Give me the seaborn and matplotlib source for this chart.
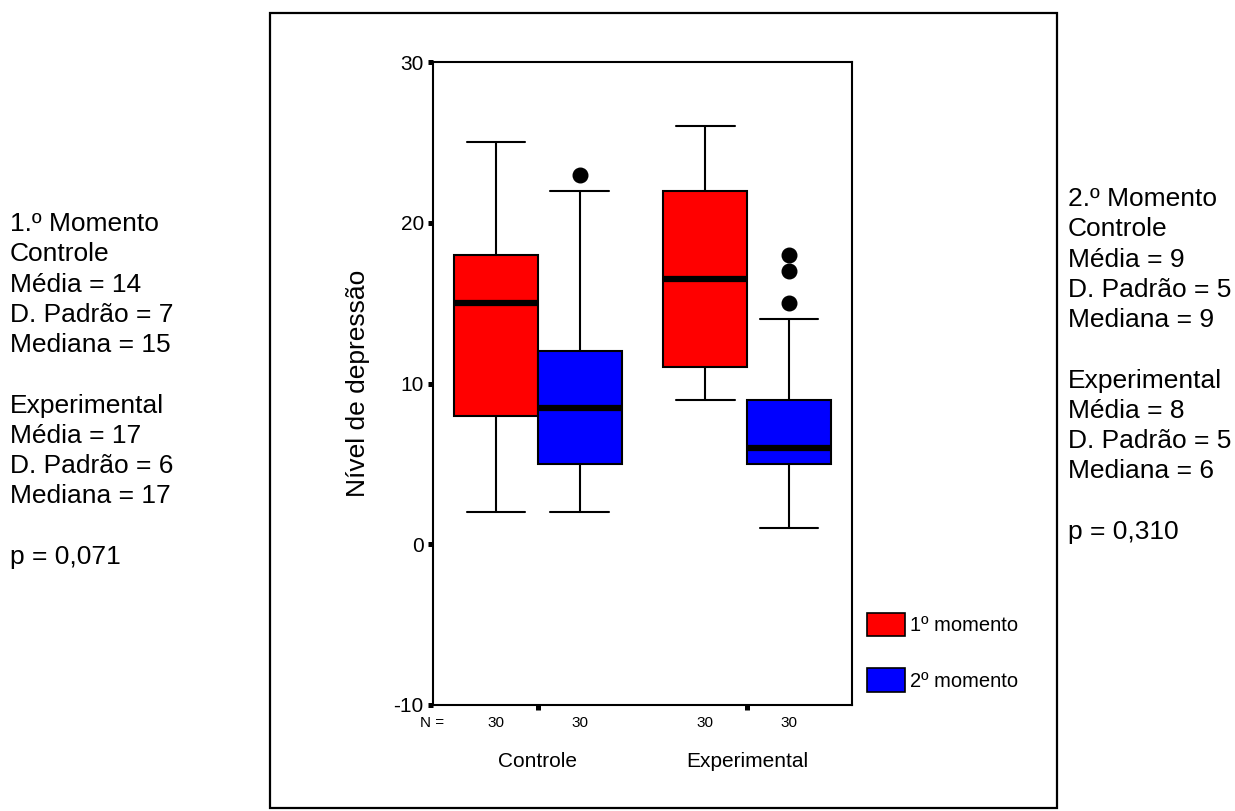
import numpy as np
import pandas as pd
import seaborn as sns
import matplotlib.pyplot as plt
from matplotlib.patches import Patch, Rectangle

# categories
groups = ["Controle", "Experimental"]
moments = ["1º momento", "2º momento"]
colors = ["#ff0000", "#0000ff"]

# box stats (Controle 1/2, Experimental 1/2)
medians = [15, 8.5, 16.5, 6]
q1 = [8, 5, 11, 5]
q3 = [18, 12, 22, 9]
whis_lo = [2, 2, 9, 1]
whis_hi = [25, 22, 26, 14]
outliers = [[], [23], [], [15, 17, 18]]
n_obs = [30, 30, 30, 30]

yticks = [-10, 0, 10, 20, 30]

left_lines = ["1.º Momento", "Controle", "Média = 14", "D. Padrão = 7", "Mediana = 15", "",
              "Experimental", "Média = 17", "D. Padrão = 6", "Mediana = 17", "", "p = 0,071"]
right_lines = ["2.º Momento", "Controle", "Média = 9", "D. Padrão = 5", "Mediana = 9", "",
               "Experimental", "Média = 8", "D. Padrão = 5", "Mediana = 6", "", "p = 0,310"]

sns.set_style("white")
plt.rcParams['font.family'] = ['Liberation Sans', 'DejaVu Sans']
plt.rcParams['axes.unicode_minus'] = False
for k in ["text.color", "axes.labelcolor", "xtick.color", "ytick.color"]:
    plt.rcParams[k] = "black"

# one row per box
df = pd.DataFrame({
    "grupo": np.repeat(groups, 2),
    "momento": moments * 2,
    "med": medians, "q1": q1, "q3": q3,
    "whislo": whis_lo, "whishi": whis_hi,
    "n": n_obs,
})
df["fliers"] = outliers
df["pos"] = [groups.index(g) + (moments.index(m) - 0.5) * 0.4 for g, m in zip(df.grupo, df.momento)]

stats = [dict(med=r.med, q1=r.q1, q3=r.q3, whislo=r.whislo, whishi=r.whishi, fliers=r.fliers)
         for r in df.itertuples()]

fig = plt.figure(figsize=(12.35, 8.11), dpi=100)
ax = fig.add_axes([433 / 1235, 1 - 705 / 811, (852 - 433) / 1235, (705 - 62) / 811])

bp = ax.bxp(stats, positions=df.pos, widths=0.4, patch_artist=True, capwidths=0.28,
            boxprops=dict(edgecolor="black", linewidth=1.5),
            medianprops=dict(color="black", linewidth=4.5, solid_capstyle="butt"),
            whiskerprops=dict(color="black", linewidth=1.5),
            capprops=dict(color="black", linewidth=1.5),
            flierprops=dict(marker="o", markerfacecolor="black", markeredgecolor="black", markersize=10.5))
for patch, m in zip(bp["boxes"], df.momento):
    patch.set_facecolor(colors[moments.index(m)])

ax.set_xlim(-0.5, 1.5)
ax.set_ylim(-10, 30)
ax.set_yticks(yticks)
ax.set_xticks(range(len(groups)))
ax.set_xticklabels(groups, fontsize=15)
ax.tick_params(axis="both", left=True, bottom=True, length=3.6, width=3.6,
               direction="out", color="black")
ax.tick_params(axis="y", labelsize=15, pad=3)
ax.tick_params(axis="x", pad=30)
for s in ax.spines.values():
    s.set_linewidth(1.5)
    s.set_color("black")
ax.set_ylabel("Nível de depressão", fontsize=19, labelpad=17)

# N row under the axis
tr = ax.get_xaxis_transform()
ax.text(-0.505, -0.028, "N =", transform=tr, ha="center", va="center", fontsize=11)
for p, n in zip(df.pos, df.n):
    ax.text(p, -0.028, str(n), transform=tr, ha="center", va="center", fontsize=11)

handles = [Patch(facecolor=c, edgecolor="black", linewidth=1.2) for c in colors]
ax.legend(handles, moments, loc="upper left", frameon=False, fontsize=14.5,
          bbox_to_anchor=(867 / 1235, 1 - 613 / 811), bbox_transform=fig.transFigure,
          borderpad=0, borderaxespad=0, handlelength=1.9, handleheight=1.4,
          labelspacing=1.6, handletextpad=0.25)

# outer frame
fig.add_artist(Rectangle((270 / 1235, 1 - 808 / 811), (1057 - 270) / 1235, (808 - 13) / 811,
                         transform=fig.transFigure, fill=False, linewidth=1.6, edgecolor="black"))

fig.text(10 / 1235, 1 - 212 / 811, "\n".join(left_lines), ha="left", va="top", fontsize=19, linespacing=1.33)
fig.text(1068 / 1235, 1 - 187 / 811, "\n".join(right_lines), ha="left", va="top", fontsize=19, linespacing=1.33)

fig.savefig("out.png", dpi=100)
